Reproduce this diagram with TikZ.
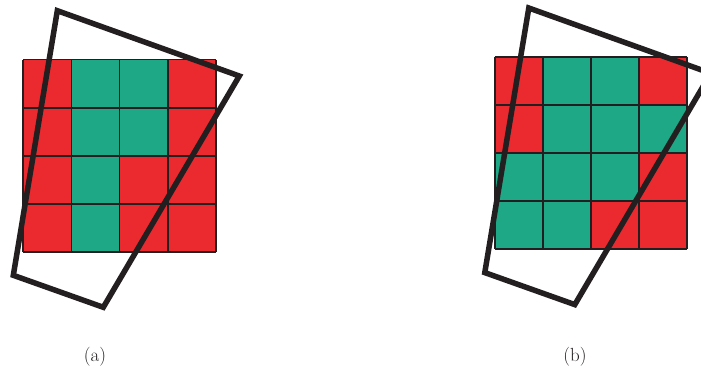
\documentclass[tikz,border=0pt]{standalone}
\usepackage{xcolor}
\usepackage{tikz}
\definecolor{gcRed}{HTML}{EB2A30}
\definecolor{gcGreen}{HTML}{1EA886}
\definecolor{gcInk}{HTML}{231F20}
\tikzset{
  % Grid cells
  cellR/.style={fill=gcRed},
  cellG/.style={fill=gcGreen},
  % Grid lines
  gridln/.style={draw=gcInk,line width=1.8pt},
  % Tilted window
  frame/.style={draw=gcInk,line width=5.5pt,line join=miter},
  capLbl/.style={font=\fontsize{19}{22}\selectfont,text=gcInk},
}
\begin{document}
\begin{tikzpicture}[x=1pt,y=-1pt]
  \useasboundingbox (0,0) rectangle (701,372);

  % (a)
  \begin{scope}[shift={(23.3,59.5)}]
    \foreach \c [count=\i from 0] in {R,G,G,R, R,G,G,R, R,G,R,R, R,G,R,R} {
      \pgfmathtruncatemacro{\col}{mod(\i,4)}
      \pgfmathtruncatemacro{\row}{\i/4}
      \fill[cell\c] (\col*48.1,\row*48.1) rectangle ++(48.1,48.1);
    }
    \foreach \k in {0,...,4} {
      \draw[gridln] (\k*48.1,0) -- (\k*48.1,192.4);
      \draw[gridln] (0,\k*48.1) -- (192.4,\k*48.1);
    }
  \end{scope}
  \draw[frame] (57.3,10.7) -- (239.3,76) -- (103.3,307.3) -- (13.3,275.3) -- cycle;
  \node[capLbl] (capA) at (95,357) {(a)};

  % (b)
  \begin{scope}[shift={(494.8,56.8)}]
    \foreach \c [count=\i from 0] in {R,G,G,R, R,G,G,G, G,G,G,R, G,G,R,R} {
      \pgfmathtruncatemacro{\col}{mod(\i,4)}
      \pgfmathtruncatemacro{\row}{\i/4}
      \fill[cell\c] (\col*48.1,\row*48.1) rectangle ++(48.1,48.1);
    }
    \foreach \k in {0,...,4} {
      \draw[gridln] (\k*48.1,0) -- (\k*48.1,192.4);
      \draw[gridln] (0,\k*48.1) -- (192.4,\k*48.1);
    }
  \end{scope}
  \begin{scope}[shift={(471.5,-2.7)}]
    \draw[frame] (57.3,10.7) -- (239.3,76) -- (103.3,307.3) -- (13.3,275.3) -- cycle;
  \end{scope}
  \node[capLbl] (capB) at (575,357) {(b)};
\end{tikzpicture}
\end{document}
